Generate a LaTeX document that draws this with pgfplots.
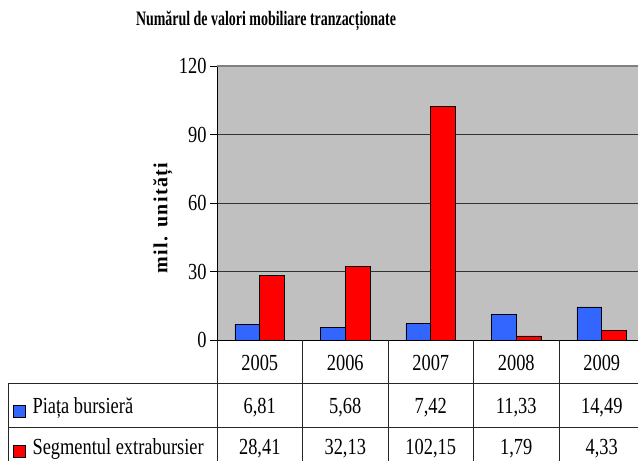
\documentclass[border=0pt]{standalone}
\usepackage{fontspec}
\setmainfont{Liberation Serif}[FakeStretch=0.8]
\newfontfamily\titlefont{Liberation Serif}[FakeStretch=0.68]
\newfontfamily\labelfont{Liberation Serif}[LetterSpace=7]
\usepackage{pgfplots}
\pgfplotsset{compat=1.18}

\definecolor{plotgray}{HTML}{C0C0C0}
\definecolor{barblue}{HTML}{3366FF}
\definecolor{barred}{HTML}{FF0000}

\begin{document}
\begin{tikzpicture}[x=1pt,y=1pt]

\begin{axis}[
    at={(217pt,121pt)}, anchor=south west,
    scale only axis,
    width=427.5pt, height=274pt,
    xmin=0, xmax=5, ymin=0, ymax=120,
    ytick={0,30,60,90,120},
    xtick=\empty,
    ybar, bar width=0.29,
    axis lines*=left,
    axis line style={-, black, line width=0.8pt},
    ymajorgrids,
    major grid style={black!80, line width=0.7pt},
    tick align=outside,
    major tick length=7pt,
    ytick style={black, line width=0.6pt},
    axis background/.style={fill=plotgray},
    tick label style={font=\fontsize{23}{27}\selectfont},
    /pgf/number format/assume math mode=true,
    clip=false,
]
\addplot[fill=barblue, draw=black, line width=0.7pt, bar shift=-0.145]
    coordinates {(0.5,6.81) (1.5,5.68) (2.5,7.42) (3.5,11.33) (4.5,14.49)};
\addplot[fill=barred, draw=black, line width=0.7pt, bar shift=0.145]
    coordinates {(0.5,28.41) (1.5,32.13) (2.5,102.15) (3.5,1.79) (4.5,4.33)};
\draw[black!50, line width=1.6pt] (rel axis cs:0,1) -- (rel axis cs:1,1);
\end{axis}

% titlu si eticheta axei
\node[font=\titlefont\bfseries\fontsize{20.5}{24}\selectfont] at (266,440)
    {Numărul de valori mobiliare tranzacționate};
\node[rotate=90, font=\labelfont\bfseries\fontsize{20}{24}\selectfont] at (163,243)
    {mil. unități};

% tabelul de date
\begin{scope}[black!85, line width=0.7pt]
\foreach \xx in {217,302.5,388,473.5,559,644.5}
    \draw (\xx,121) -- (\xx,-5);
\draw (8,78) -- (644.5,78);
\draw (8,34) -- (644.5,34);
\draw (8,78) -- (8,-5);
\end{scope}

\begin{scope}[font=\fontsize{23}{27}\selectfont]
\foreach \yr [count=\i from 0] in {2005,2006,2007,2008,2009}
    \node at (259.75+85.5*\i,98) {\yr};
\foreach \v [count=\i from 0] in {{6,81},{5,68},{7,42},{11,33},{14,49}}
    \node at (259.75+85.5*\i,53) {\v};
\foreach \v [count=\i from 0] in {{28,41},{32,13},{102,15},{1,79},{4,33}}
    \node at (259.75+85.5*\i,12) {\v};
\filldraw[fill=barblue, draw=black, line width=0.7pt] (13,44) rectangle (25,56);
\filldraw[fill=barred, draw=black, line width=0.7pt] (13,4) rectangle (25,16);
\node[anchor=west] at (29,53) {Piața bursieră};
\node[anchor=west] at (29,12) {Segmentul extrabursier};
\end{scope}

\pgfresetboundingbox
\useasboundingbox (0,0) rectangle (638,461);
\end{tikzpicture}
\end{document}
